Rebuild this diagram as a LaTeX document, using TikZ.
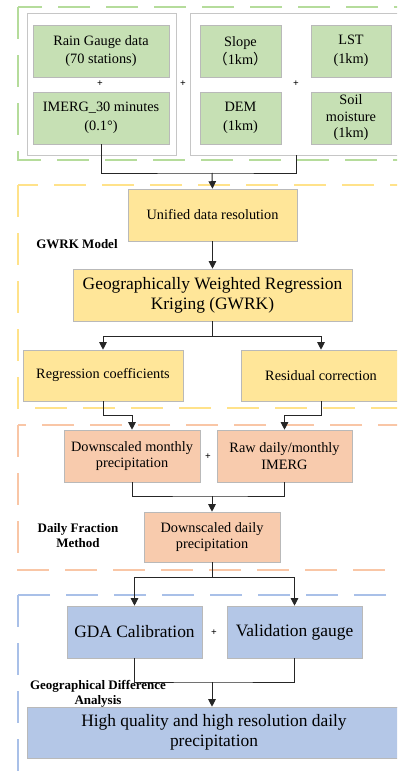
\documentclass[tikz,border=0pt]{standalone}
\usepackage{fontspec}
\setmainfont{Liberation Serif}
\newfontfamily\cjk{Noto Sans CJK SC}
\usetikzlibrary{arrows.meta, positioning}

\definecolor{boxgreen}{HTML}{C6E0B4}
\definecolor{boxyellow}{HTML}{FFE699}
\definecolor{boxorange}{HTML}{F8CBAD}
\definecolor{boxblue}{HTML}{B4C7E7}
\definecolor{framegreen}{HTML}{B5DC9B}
\definecolor{frameyellow}{HTML}{FFE28A}
\definecolor{frameorange}{HTML}{F9C6A6}
\definecolor{frameblue}{HTML}{A9C0E8}

\begin{document}
\begin{tikzpicture}[
    x=1pt, y=-1pt,
    box/.style={rectangle, draw=gray!55, line width=0.6pt, minimum height=52pt, align=center, inner sep=2pt, font=\fontsize{14.3}{18.5}\selectfont},
    bigtext/.style={font=\fontsize{17.4}{20}\selectfont},
    gbox/.style={box, fill=boxgreen},
    ybox/.style={box, fill=boxyellow},
    obox/.style={box, fill=boxorange, font=\fontsize{14.3}{16.5}\selectfont},
    bluebox/.style={box, fill=boxblue, bigtext},
    grp/.style={rectangle, draw=gray!45, line width=0.7pt},
    frame/.style={line width=1.6pt, dash pattern=on 32pt off 16pt},
    line/.style={line width=1pt, black!85},
    arrow/.style={line, -{Triangle[width=7.5pt,length=7.5pt]}},
    plus/.style={inner sep=0pt, font=\bfseries\fontsize{10}{10}\selectfont},
    tag/.style={inner sep=0pt, align=center, font=\bfseries\fontsize{13}{15}\selectfont}
]
\useasboundingbox (0,0) rectangle (397,772);
\clip (0,0) rectangle (397,772);

% cadres en pointillés
\draw[frame, framegreen] (18,7) rectangle (405,160);
\draw[frame, frameyellow] (18,185) rectangle (405,408);
\draw[frame, frameorange] (18,425) rectangle (405,570);
\draw[frame, frameblue] (18,595) rectangle (405,776);

% BLOC 1 (données d'entrée)
\node[grp, minimum width=149pt, minimum height=142pt] (grpL) at (101.5,84) {};
\node[grp, minimum width=213pt, minimum height=142pt] (grpR) at (296.5,84) {};

\node[gbox, minimum width=136pt] (rain) at (101,51) {Rain Gauge data\\(70 stations)};
\node[gbox, minimum width=136pt] (imerg) at (101,118) {IMERG\_30 minutes\\(0.1°)};
\node[gbox, minimum width=81pt] (slope) at (240.5,51) {Slope\\{\cjk （}1km{\cjk ）}};
\node[gbox, minimum width=80pt] (lst) at (351,51) {LST\\(1km)};
\node[gbox, minimum width=81pt] (dem) at (240.5,118) {DEM\\(1km)};
\node[gbox, minimum width=80pt, font=\fontsize{14.3}{16.5}\selectfont] (soil) at (351,118) {Soil\\moisture\\(1km)};

\node[plus] (plusA) at (100,84) {+};
\node[plus] (plusB) at (183,84) {+};
\node[plus] (plusC) at (296,84) {+};

% BLOC 2 (GWRK)
\node[ybox, minimum width=169pt] (unified) at (212.5,215) {Unified data resolution};
\node[ybox, bigtext, minimum width=279pt] (gwrk) at (212.5,295) {Geographically Weighted Regression\\Kriging (GWRK)};
\node[ybox, minimum width=160pt, minimum height=51pt] (regcoef) at (103,375.5) {Regression coefficients};
\node[ybox, minimum width=160pt, minimum height=51pt] (resid) at (321,375.5) {Residual correction};
\node[tag] (gwrkTag) at (77,244) {GWRK Model};

% BLOC 3 (fraction journalière)
\node[obox, minimum width=136pt] (dmonth) at (132,456) {Downscaled monthly\\precipitation};
\node[obox, minimum width=135pt] (raw) at (284.5,456) {Raw daily/monthly\\IMERG};
\node[obox, minimum width=136pt, minimum height=50pt] (ddaily) at (212,537) {Downscaled daily\\precipitation};
\node[plus] (plusD) at (208,457) {+};
\node[tag] (dfTag) at (78,536) {Daily Fraction\\Method};

% BLOC 4 (analyse)
\node[bluebox, minimum width=135pt] (gda) at (134.5,632) {GDA Calibration};
\node[bluebox, minimum width=135pt] (valid) at (294.5,632) {Validation gauge};
\node[bluebox, minimum width=374pt, minimum height=51pt] (final) at (214,732.5) {High quality and high resolution daily\\precipitation};
\node[plus] (plusE) at (214,633) {+};
\node[tag] (gdaTag) at (98,694) {Geographical Difference\\Analysis};

% FLECHES
\coordinate (j1) at (212,173);
\coordinate (j2) at (212,496);
\coordinate (j3) at (212,682);

\draw[line] (imerg.south) |- (j1) -| (plusC |- grpR.south);
\draw[arrow] (j1) -- (unified.north);
\draw[arrow] (unified) -- (gwrk);
\draw[arrow] (gwrk.south) -- ++(0,15) -| (regcoef.north);
\draw[arrow] (gwrk.south) -- ++(0,15) -| (resid.north);

\draw[arrow] (regcoef.south) -- ++(0,14) -| (dmonth.north);
\draw[arrow] (resid.south) -- ++(0,14) -| (raw.north);
\draw[line] (dmonth.south) |- (j2) -| (raw.south);
\draw[arrow] (j2) -- (ddaily.north);

\draw[arrow] (ddaily.south) -- ++(0,15) -| (gda.north);
\draw[arrow] (ddaily.south) -- ++(0,15) -| (valid.north);
\draw[line] (gda.south) |- (j3) -| (valid.south);
\draw[arrow] (j3) -- (j3 |- final.north);

\end{tikzpicture}
\end{document}
